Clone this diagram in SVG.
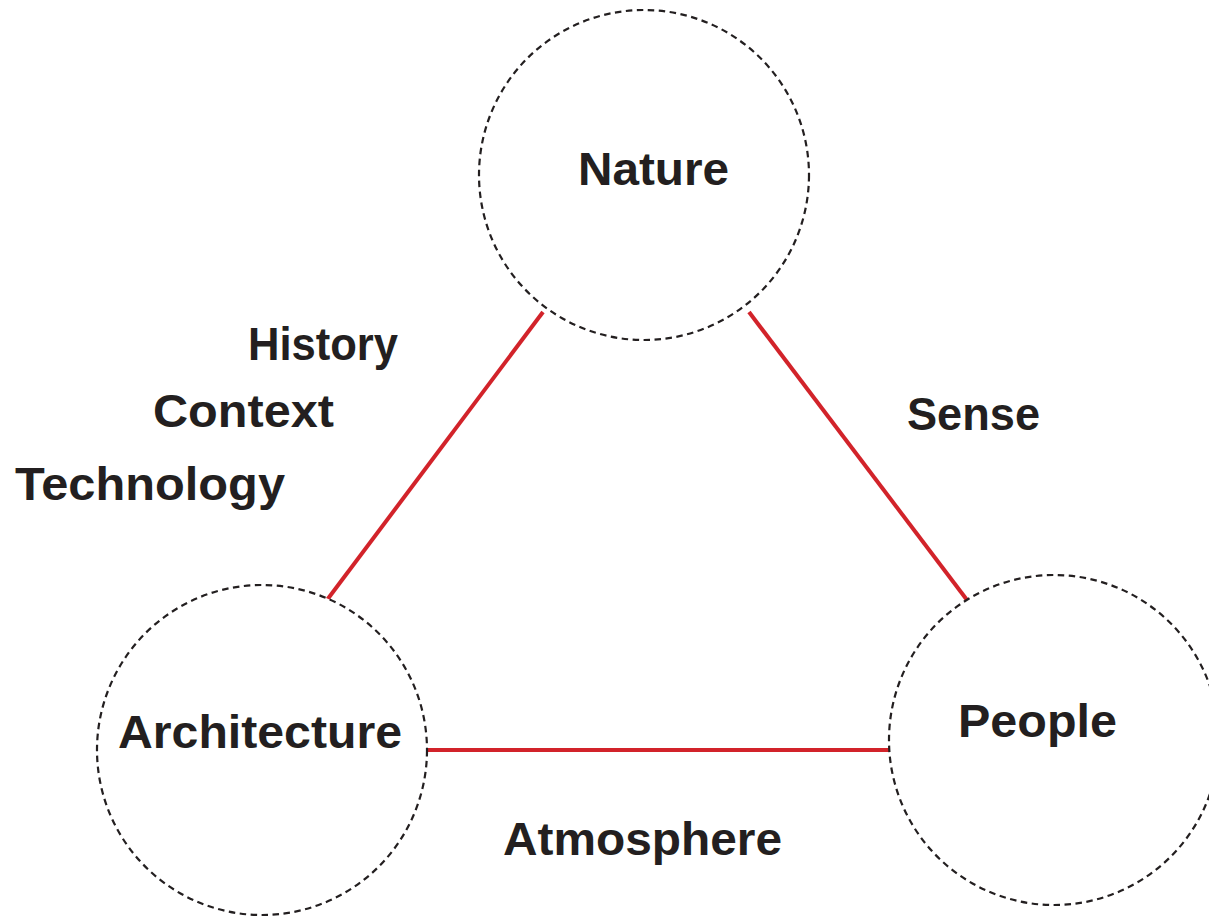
<svg xmlns="http://www.w3.org/2000/svg" width="1209" height="920" viewBox="0 0 1209 920">
<style>
.node{fill:#fff;stroke:#231f20;stroke-width:2.2;stroke-dasharray:6.5 4.5}
.lbl{font-family:"Liberation Sans",Arial,sans-serif;font-weight:700;font-size:47px;fill:#231f20}
.edge{stroke:#d2232a;stroke-width:4;fill:none}
</style>
<rect width="1209" height="920" fill="#fff"/>
<g id="connectors">
<line class="edge" x1="543" y1="312" x2="327" y2="600"/>
<line class="edge" x1="749" y1="312" x2="967" y2="600"/>
<line class="edge" x1="427" y1="750" x2="889" y2="750"/>
</g>
<g id="nature">
<circle class="node" cx="644" cy="175" r="165"/>
<text class="lbl" x="578" y="185" textLength="151" lengthAdjust="spacingAndGlyphs">Nature</text>
</g>
<g id="architecture">
<circle class="node" cx="262" cy="750" r="165"/>
<text class="lbl" x="118" y="748" textLength="284" lengthAdjust="spacingAndGlyphs">Architecture</text>
</g>
<g id="people">
<circle class="node" cx="1054" cy="740" r="165"/>
<text class="lbl" x="958" y="737" textLength="159" lengthAdjust="spacingAndGlyphs">People</text>
</g>
<g id="labels">
<text class="lbl" x="248" y="360" textLength="150" lengthAdjust="spacingAndGlyphs">History</text>
<text class="lbl" x="153" y="427" textLength="181" lengthAdjust="spacingAndGlyphs">Context</text>
<text class="lbl" x="15" y="500" textLength="270" lengthAdjust="spacingAndGlyphs">Technology</text>
<text class="lbl" x="907" y="430" textLength="133" lengthAdjust="spacingAndGlyphs">Sense</text>
<text class="lbl" x="503" y="855" textLength="279" lengthAdjust="spacingAndGlyphs">Atmosphere</text>
</g>
</svg>
